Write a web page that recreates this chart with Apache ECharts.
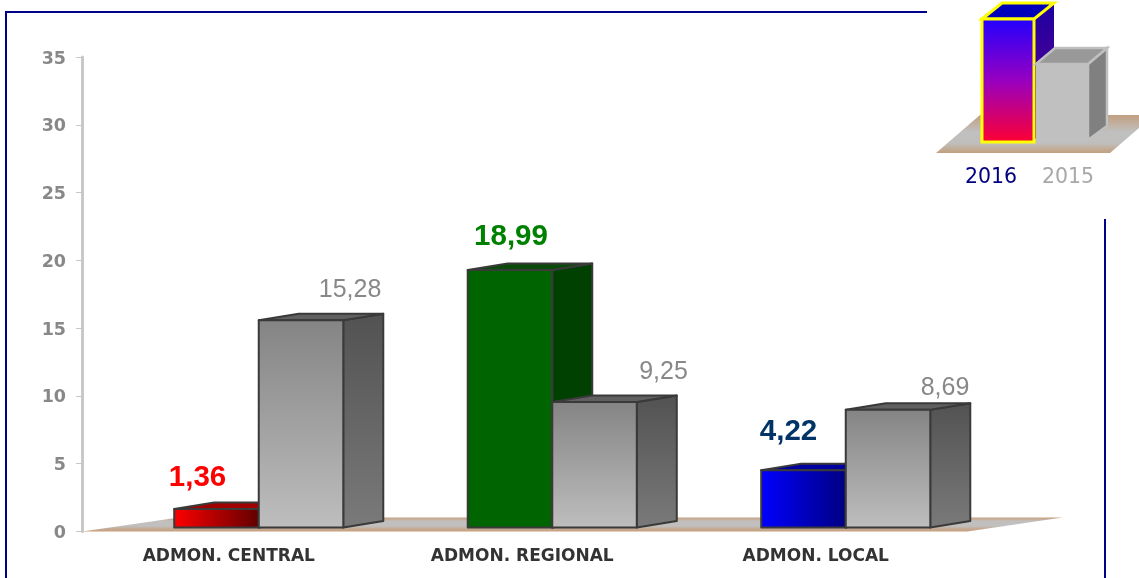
<!DOCTYPE html>
<html>
<head>
<meta charset="utf-8">
<style>
  html, body { margin: 0; padding: 0; background: #fff; }
  #chart { width: 1139px; height: 578px; }
</style>
<script src="https://cdn.jsdelivr.net/npm/echarts@6/dist/echarts.min.js"></script>
</head>
<body>
<div id="chart"></div>
<script>
var categories = ['ADMON. CENTRAL', 'ADMON. REGIONAL', 'ADMON. LOCAL'];
var values2016 = [1.36, 18.99, 4.22];
var values2015 = [15.28, 9.25, 8.69];
var yTicks = { min: 0, max: 35, interval: 5 };
var legendNames = ['2016', '2015'];

// label offsets from the top centre of each front face, the source places them by hand
var labelShift2016 = [[-19, -31], [1, -33], [-15, -38]];
var labelShift2015 = [[49, -30], [69, -30], [57, -22]];

function grad(x2, y2, from, to) {
  return new echarts.graphic.LinearGradient(0, 0, x2, y2, [
    { offset: 0, color: from },
    { offset: 1, color: to }
  ]);
}

var styles2016 = [
  { front: grad(1, 0, '#ff0000', '#600000'), side: '#500000', top: '#a00000', label: '#ff0000' },
  { front: '#006400', side: '#004000', top: '#0a4a0a', label: '#008000' },
  { front: grad(1, 0, '#0000ff', '#000080'), side: '#000060', top: '#0000a0', label: '#003366' }
];
var style2015 = {
  front: grad(0, 1, '#848484', '#bebebe'),
  side: grad(0, 1, '#525252', '#7a7a7a'),
  top: '#606060',
  label: '#888888'
};

var barRatio = 0.288;   // front width / band
var shiftX = 30;        // bars sit right of the label
var liftY = 4;          // and a bit above the axis zero
var depthX = 40;
var depthY = 6.5;

function fmt(v) {
  return v.toFixed(2).replace('.', ',');
}

function bar3d(api, side, style, shift, bold) {
  var idx = api.value(0);
  var val = api.value(1);
  var base = api.coord([idx, 0]);
  var top = api.coord([idx, val]);
  var w = api.size([1, 0])[0] * barRatio;
  var cx = base[0] + shiftX;
  var x0 = side < 0 ? cx - w : cx;
  var x1 = x0 + w;
  var y0 = base[1] - liftY;
  var y1 = top[1] - liftY;
  var line = { stroke: '#3a3a3a', lineWidth: 2, lineJoin: 'round' };
  return {
    type: 'group',
    children: [
      {
        type: 'polygon',
        shape: { points: [[x1, y1], [x1 + depthX, y1 - depthY], [x1 + depthX, y0 - depthY], [x1, y0]] },
        style: Object.assign({ fill: style.side }, line)
      },
      {
        type: 'polygon',
        shape: { points: [[x0, y1], [x0 + depthX, y1 - depthY], [x1 + depthX, y1 - depthY], [x1, y1]] },
        style: Object.assign({ fill: style.top }, line)
      },
      {
        type: 'rect',
        shape: { x: x0, y: y1, width: w, height: y0 - y1 },
        style: Object.assign({ fill: style.front }, line)
      },
      {
        type: 'text',
        x: (x0 + x1) / 2 + shift[0],
        y: y1 + shift[1],
        style: {
          text: fmt(val),
          fill: style.label,
          font: (bold ? 'bold 29.5px' : '25px') + ' "Liberation Sans", Arial, sans-serif',
          textAlign: 'center',
          textVerticalAlign: 'middle'
        }
      }
    ]
  };
}

var chart = echarts.init(document.getElementById('chart'));

function floorItem(params) {
  var c = params.coordSys;
  var yb = c.y + c.height;
  var yt = yb - 14;
  return {
    type: 'polygon',
    shape: { points: [[c.x, yb], [c.x + 97, yt], [c.x + c.width + 100, yt], [c.x + c.width + 5, yb]] },
    style: {
      fill: new echarts.graphic.LinearGradient(0, 0, 0, 1, [
        { offset: 0, color: '#c69f7e' },
        { offset: 0.25, color: '#c2bfbc' },
        { offset: 0.6, color: '#c0c0c0' },
        { offset: 0.8, color: '#c4ab94' },
        { offset: 1, color: '#c69f7e' }
      ])
    }
  };
}

chart.setOption({
  backgroundColor: '#ffffff',
  animation: false,
  grid: { left: 82, top: 57, width: 880.5, height: 474.5 },
  xAxis: {
    type: 'category',
    data: categories,
    axisLine: { show: false },
    axisTick: { show: false },
    axisLabel: {
      margin: 17,
      color: '#333333',
      fontFamily: '"DejaVu Sans", Verdana, sans-serif',
      fontWeight: 'bold',
      fontSize: 17
    }
  },
  yAxis: {
    type: 'value',
    min: yTicks.min,
    max: yTicks.max,
    interval: yTicks.interval,
    splitLine: { show: false },
    axisLine: { show: true, lineStyle: { color: '#c8c8c8', width: 3 } },
    axisTick: { show: true, length: 6, lineStyle: { color: '#c8c8c8', width: 1 } },
    axisLabel: {
      margin: 16,
      formatter: '{t|{value}}',
      rich: {
        t: {
          padding: [4, 0, 0, 0],
          color: '#888888',
          fontFamily: '"DejaVu Sans", Verdana, sans-serif',
          fontWeight: 'bold',
          fontSize: 17.5
        }
      }
    }
  },
  series: [
    {
      type: 'custom',
      name: 'floor',
      silent: true,
      z: 1,
      data: [[0, 0]],
      renderItem: floorItem
    },
    {
      type: 'custom',
      name: legendNames[0],
      z: 2,
      data: values2016.map(function (v, i) { return [i, v]; }),
      encode: { x: 0, y: 1 },
      renderItem: function (params, api) {
        var i = params.dataIndex;
        return bar3d(api, -1, styles2016[i], labelShift2016[i], true);
      }
    },
    {
      type: 'custom',
      name: legendNames[1],
      z: 3,
      data: values2015.map(function (v, i) { return [i, v]; }),
      encode: { x: 0, y: 1 },
      renderItem: function (params, api) {
        var i = params.dataIndex;
        return bar3d(api, 1, style2015, labelShift2015[i], false);
      }
    }
  ],
  // frame and the little 3d legend picture
  graphic: [
    { type: 'polyline', z: 5, shape: { points: [[927, 12], [6, 12], [6, 578]] }, style: { stroke: '#000088', lineWidth: 2, fill: null } },
    { type: 'line', z: 5, shape: { x1: 1105, y1: 219, x2: 1105, y2: 578 }, style: { stroke: '#000088', lineWidth: 2 } },
    {
      type: 'polygon', z: 6,
      shape: { points: [[936, 153], [980, 115], [1139, 115], [1139, 128], [1110, 153]] },
      style: {
        fill: new echarts.graphic.LinearGradient(0, 0, 0, 1, [
          { offset: 0, color: '#c29f80' },
          { offset: 0.45, color: '#c0c0c0' },
          { offset: 0.75, color: '#c0bebc' },
          { offset: 1, color: '#c29f7c' }
        ])
      }
    },
    // 2016 swatch
    {
      type: 'polygon', z: 7,
      shape: { points: [[1034, 19], [1054, 3], [1054, 120], [1034, 140]] },
      style: { fill: grad(0, 1, '#1c00a0', '#700090') }
    },
    {
      type: 'polygon', z: 7,
      shape: { points: [[982, 19], [1002, 3], [1054, 3], [1034, 19]] },
      style: { fill: '#0000bb', stroke: '#ffff00', lineWidth: 3 }
    },
    {
      type: 'rect', z: 7,
      shape: { x: 982, y: 19, width: 52, height: 123 },
      style: {
        fill: new echarts.graphic.LinearGradient(0, 0, 0, 1, [
          { offset: 0, color: '#2000ff' },
          { offset: 0.5, color: '#9800c0' },
          { offset: 1, color: '#ff0030' }
        ]),
        stroke: '#ffff00',
        lineWidth: 3
      }
    },
    // 2015 swatch
    {
      type: 'polygon', z: 8,
      shape: { points: [[1088, 64], [1107, 48], [1107, 126], [1088, 140]] },
      style: { fill: '#808080', stroke: '#c0c0c0', lineWidth: 2.5 }
    },
    {
      type: 'polygon', z: 8,
      shape: { points: [[1036, 64], [1055, 48], [1107, 48], [1088, 64]] },
      style: { fill: '#999999', stroke: '#c0c0c0', lineWidth: 2.5 }
    },
    {
      type: 'rect', z: 8,
      shape: { x: 1036, y: 64, width: 52, height: 78 },
      style: { fill: '#c0c0c0' }
    },
    {
      type: 'text', z: 7, x: 991, y: 178,
      style: { text: legendNames[0], fill: '#000080', font: '20.5px "DejaVu Sans", Verdana, sans-serif', textAlign: 'center', textVerticalAlign: 'middle' }
    },
    {
      type: 'text', z: 7, x: 1068, y: 178,
      style: { text: legendNames[1], fill: '#a8a8a8', font: '20.5px "DejaVu Sans", Verdana, sans-serif', textAlign: 'center', textVerticalAlign: 'middle' }
    },
    // the source picture cuts the legend text off at the bottom
    { type: 'rect', z: 9, shape: { x: 930, y: 184, width: 209, height: 30 }, style: { fill: '#ffffff' } }
  ]
});
</script>
</body>
</html>
